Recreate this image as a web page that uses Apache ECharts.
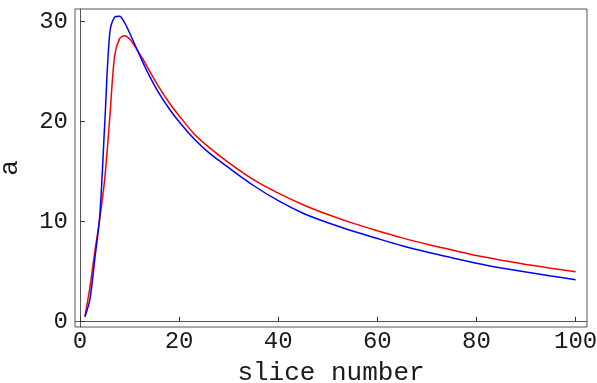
<!DOCTYPE html>
<html>
<head>
<meta charset="utf-8">
<script src="https://cdn.jsdelivr.net/npm/echarts@6/dist/echarts.min.js"></script>
<style>
  html, body { margin: 0; padding: 0; background: #fff; }
  #chart { width: 597px; height: 383px; }
</style>
</head>
<body>
<div id="chart"></div>
<script>
// Slice numbers at which the two profiles are sampled
const slices = [1, 2, 3, 4, 5, 6, 7, 8, 9, 10, 11, 12, 13, 14, 16, 18, 20, 23, 26, 30,
                35, 40, 45, 50, 55, 60, 65, 70, 75, 80, 85, 90, 95, 100];

// Red profile
const redValues = [0.5, 3.4, 7.0, 10.3, 14.3, 20.3, 26.6, 28.3, 28.6, 28.3, 27.6, 26.8, 26.0, 25.1,
                   23.4, 21.9, 20.6, 18.8, 17.45, 15.9, 14.2, 12.85, 11.7, 10.72, 9.86, 9.1, 8.38,
                   7.75, 7.18, 6.62, 6.15, 5.73, 5.35, 5.0];

// Blue profile
const blueValues = [0.5, 2.2, 6.3, 10.6, 19.8, 28.8, 30.45, 30.55, 29.9, 28.9, 27.8, 26.7, 25.6, 24.6,
                    22.8, 21.3, 20.0, 18.3, 16.9, 15.4, 13.62, 12.1, 10.85, 9.9, 9.07, 8.32, 7.6,
                    6.97, 6.4, 5.85, 5.38, 4.96, 4.57, 4.2];

// Tick labels
const xTicks = [0, 20, 40, 60, 80, 100];
const yTicks = [0, 10, 20, 30];

const pairs = (xs, ys) => xs.map((x, i) => [x, ys[i]]);

const FONT = 'Liberation Mono';
const INK = '#1a1a1a';

const chart = echarts.init(document.getElementById('chart'), null, { renderer: 'canvas' });
chart.setOption({
  animation: false,
  backgroundColor: '#fff',
  grid: {
    left: 75, top: 9, right: 10, bottom: 56,
    containLabel: false, outerBoundsMode: 'none',
    show: true, borderColor: '#555', borderWidth: 1, backgroundColor: 'transparent'
  },
  xAxis: {
    type: 'value',
    min: -1, max: 102.3,
    name: 'slice number',
    nameLocation: 'middle',
    nameGap: 33,
    nameTextStyle: { fontFamily: FONT, fontSize: 26, color: INK },
    axisLine: { show: true, lineStyle: { color: '#555', width: 1 } },
    axisTick: { show: true, inside: true, length: 5, customValues: xTicks, lineStyle: { color: '#333' } },
    axisLabel: { customValues: xTicks, fontFamily: FONT, fontSize: 24, color: INK, margin: 3 },
    splitLine: { show: false }
  },
  yAxis: {
    type: 'value',
    min: -0.53, max: 31.27,
    name: 'a',
    nameLocation: 'middle',
    nameGap: 52,
    nameTextStyle: { fontFamily: FONT, fontSize: 26, color: INK },
    axisLine: { show: true, lineStyle: { color: '#555', width: 1 } },
    axisTick: { show: true, inside: true, length: 5, customValues: yTicks, lineStyle: { color: '#333' } },
    axisLabel: { customValues: yTicks, fontFamily: FONT, fontSize: 24, color: INK, margin: 7 },
    splitLine: { show: false }
  },
  series: [
    {
      type: 'line', name: 'red',
      data: pairs(slices, redValues),
      showSymbol: false, smooth: 0.3,
      lineStyle: { color: '#ff0000', width: 1.5 }
    },
    {
      type: 'line', name: 'blue',
      data: pairs(slices, blueValues),
      showSymbol: false, smooth: 0.3,
      lineStyle: { color: '#0000ff', width: 1.5 }
    }
  ]
});
</script>
</body>
</html>
